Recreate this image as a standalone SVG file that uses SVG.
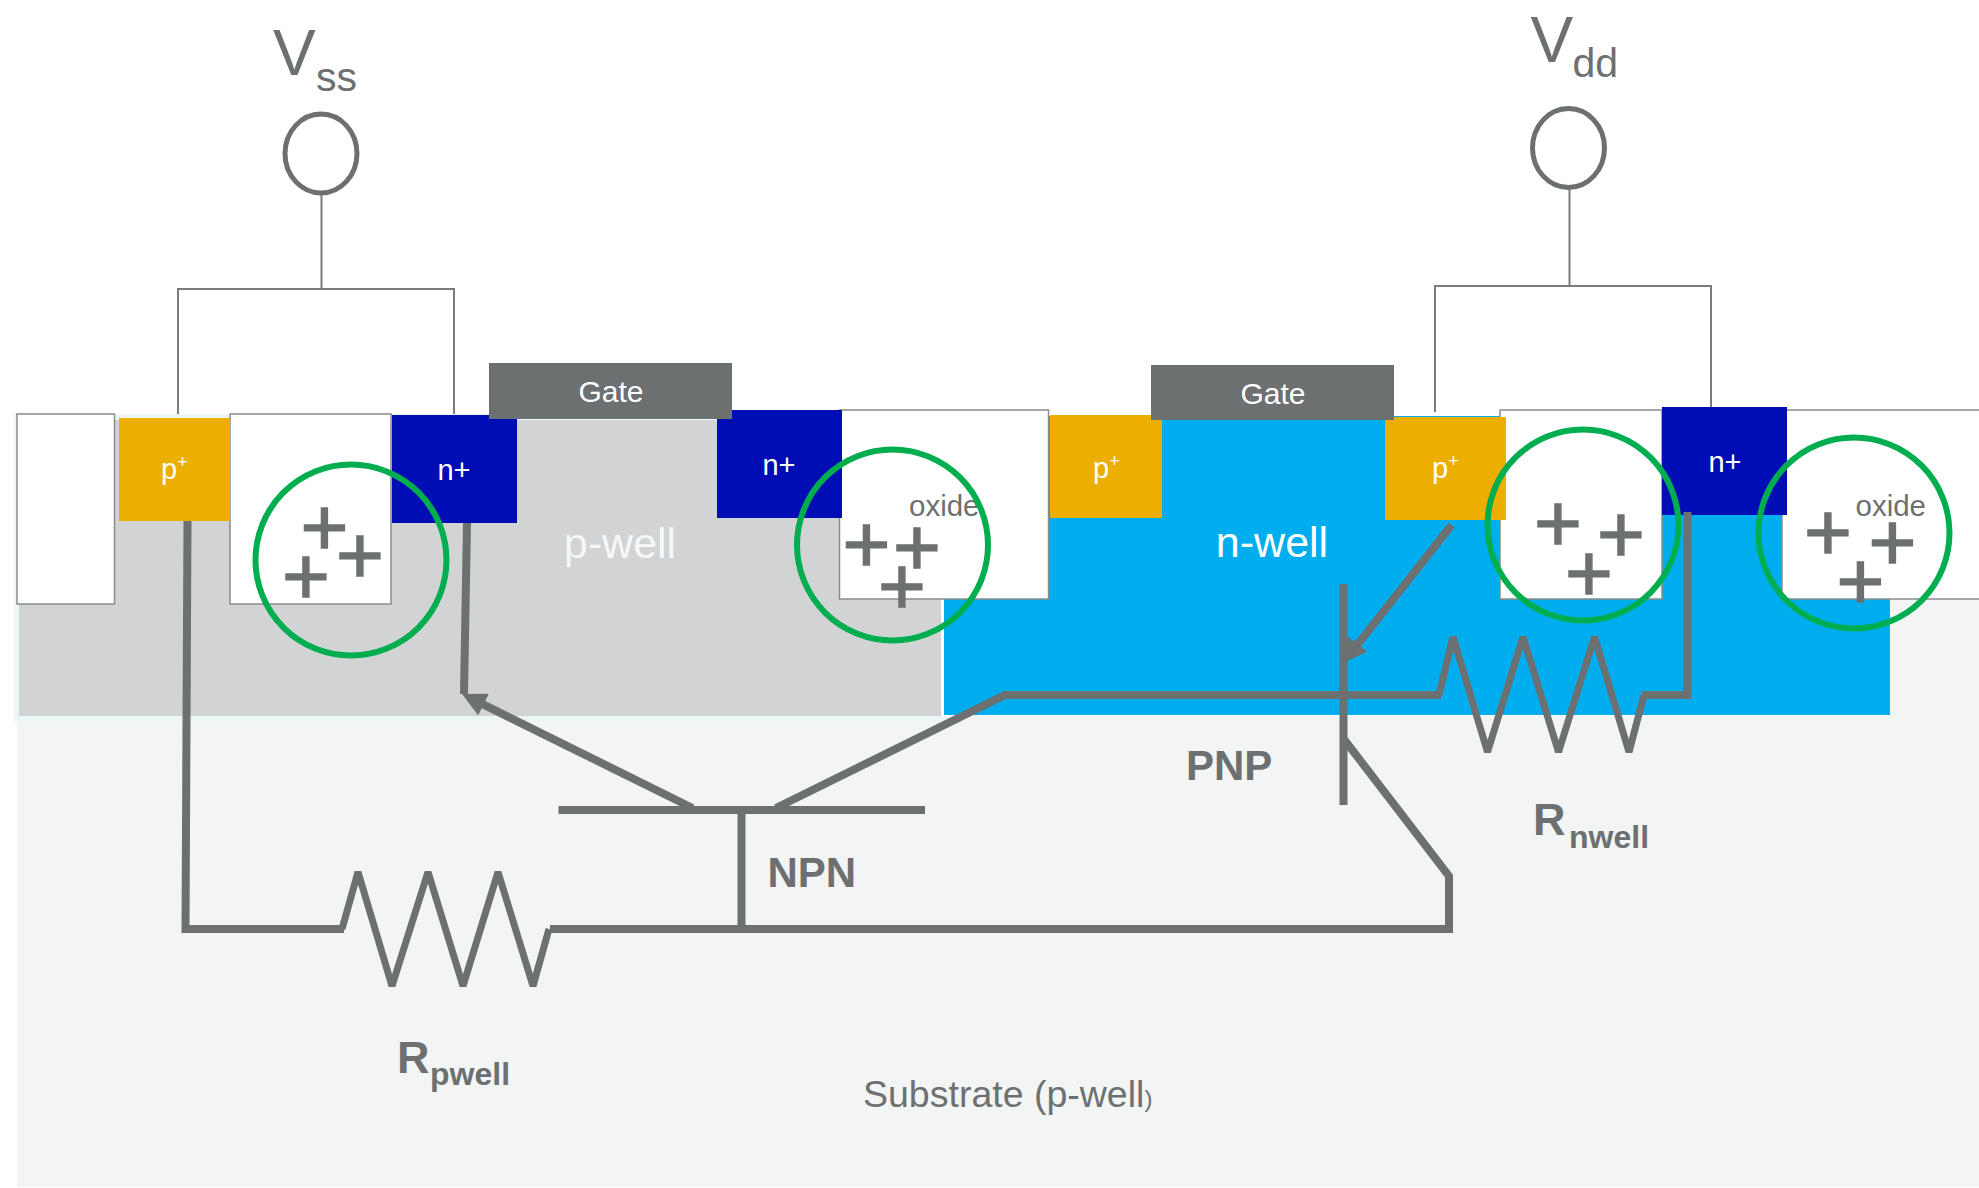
<svg xmlns="http://www.w3.org/2000/svg" width="1979" height="1188" viewBox="0 0 1979 1188">
<style>
text{font-family:"Liberation Sans",Arial,sans-serif;fill:#6d7071}
.w{fill:#fff}
.c{text-anchor:middle}
.lab{font-size:29px}
.gl{font-size:30px}
.oxl{font-size:29.500px}
.well{font-size:43px}
.bold{font-weight:700}
.plus{font-size:82px;text-anchor:middle;stroke:#6d7071;stroke-width:1.500px}
.ox{fill:#fff;stroke:#8a8c8c;stroke-width:1.5}
.pp{fill:#ecae00}
.nn{fill:#000cb4}
.gt{fill:#6d7071}
.thin{fill:none;stroke:#7a7d7d;stroke-width:2}
.ring{fill:none;stroke:#6d7071;stroke-width:5}
.hole{fill:none;stroke:#00ae4f;stroke-width:6}
.wire{fill:none;stroke:#6d7071;stroke-width:8;stroke-linejoin:miter}
.res{fill:none;stroke:#6d7071;stroke-width:7;stroke-linejoin:bevel}
</style>
<defs>
<marker id="head" markerUnits="userSpaceOnUse" viewBox="0 -12 24 24" refX="14" refY="0" markerWidth="24" markerHeight="24" orient="auto"><path d="M0,-12L24,0L0,12Z" fill="#6d7071"/></marker>
</defs>
<rect width="1979" height="1188" fill="#fff"/>
<g id="regions">
<rect x="17" y="716" width="1962" height="471" fill="#f2f5f4"/>
<rect x="1890" y="599" width="89" height="120" fill="#f2f5f4"/>
<rect x="14" y="414" width="927" height="307" fill="#ecf6f7"/>
<rect id="p-well" x="19" y="420" width="922" height="296" fill="#d1d3d4"/>
<rect id="n-well" x="944" y="416" width="946" height="299" fill="#00aeef"/>
</g>
<g id="oxide-boxes">
<rect class="ox" x="17" y="414" width="97.500" height="190"/>
<rect class="ox" x="230" y="414" width="161" height="190"/>
<rect class="ox" x="839.500" y="410" width="209" height="189"/>
<rect class="ox" x="1500" y="410" width="162" height="189"/>
<rect class="ox" x="1782" y="410" width="200" height="189"/>
</g>
<g id="p-plus-1"><rect class="pp" x="119" y="418" width="111" height="103"/><text class="lab w" x="161" y="479">p<tspan font-size="18" dy="-11">+</tspan></text></g>
<g id="n-plus-1"><rect class="nn" x="392" y="415" width="125" height="108"/><text class="lab w c" x="454" y="480">n+</text></g>
<g id="n-plus-2"><rect class="nn" x="717" y="410" width="125" height="108"/><text class="lab w c" x="779" y="475">n+</text></g>
<g id="p-plus-2"><rect class="pp" x="1050" y="415" width="112" height="103"/><text class="lab w" x="1093" y="478">p<tspan font-size="18" dy="-11">+</tspan></text></g>
<g id="p-plus-3"><rect class="pp" x="1385" y="417" width="121" height="103"/><text class="lab w" x="1432" y="478">p<tspan font-size="18" dy="-11">+</tspan></text></g>
<g id="n-plus-3"><rect class="nn" x="1662" y="407" width="125" height="108"/><text class="lab w c" x="1725" y="472">n+</text></g>
<g id="gate-1"><rect class="gt" x="489" y="363" width="243" height="56"/><text class="gl w c" x="611" y="402">Gate</text></g>
<g id="gate-2"><rect class="gt" x="1151" y="365" width="243" height="55"/><text class="gl w c" x="1273" y="404">Gate</text></g>
<g id="well-labels">
<text class="well c" x="620" y="558" style="fill:#f6f7f7">p-well</text>
<text class="well w c" x="1272" y="557">n-well</text>
<text x="863" y="1107" font-size="37.500">Substrate (p-well<tspan font-size="24">)</tspan></text>
</g>
<g id="oxide-labels">
<text class="oxl" x="909" y="516">oxide</text>
<text class="oxl" x="1855.500" y="516">oxide</text>
</g>
<g id="charges">
<text class="plus" x="324.500" y="555">+</text><text class="plus" x="360" y="583">+</text><text class="plus" x="306" y="604">+</text>
<text class="plus" x="866.500" y="572">+</text><text class="plus" x="917" y="575">+</text><text class="plus" x="902" y="614">+</text>
<text class="plus" x="1558" y="551">+</text><text class="plus" x="1621" y="562">+</text><text class="plus" x="1589" y="601">+</text>
<text class="plus" x="1828" y="560">+</text><text class="plus" x="1892.500" y="570">+</text><text class="plus" x="1860.500" y="609">+</text>
</g>
<g id="connectors">
<path class="thin" d="M178,414V289H454V414M321.500,195V289"/>
<path class="thin" d="M1435,412V286H1711V407M1569.500,190V286"/>
<path class="wire" d="M187.500,521L185.500,929H344"/>
<path class="res" d="M342,929L358,872L392,986L428,872L463,986L498,872L533,986L549,929"/>
<path class="wire" d="M550,929H1449V876L1343,738"/>
<path class="wire" d="M741.500,810V929"/>
<path class="wire" d="M558.500,810H925"/>
<path class="wire" d="M467,523L464,694"/>
<path class="wire" d="M692.500,808L471,698.400" marker-end="url(#head)"/>
<path class="wire" d="M776,808L1005,695H1441"/>
<path class="res" d="M1439,695L1453,637L1487.500,752L1523,637L1558.500,752L1594.500,637L1629,752L1644,695"/>
<path class="wire" d="M1642,695H1687.500V512"/>
<path class="wire" d="M1343.500,584V805"/>
<path class="wire" d="M1451.600,525L1349.200,655.100" marker-end="url(#head)"/>
</g>
<g id="hole-rings">
<ellipse class="hole" cx="351" cy="560" rx="95.500" ry="95.500"/>
<ellipse class="hole" cx="892.500" cy="545" rx="95.500" ry="95.500"/>
<ellipse class="hole" cx="1583" cy="525" rx="95.500" ry="95.500"/>
<ellipse class="hole" cx="1854" cy="533" rx="95.500" ry="95.500"/>
</g>
<g id="vss"><ellipse class="ring" cx="321" cy="153.500" rx="36" ry="39.500"/><text x="273" y="75" font-size="64">V</text><text x="316" y="91" font-size="41">ss</text></g>
<g id="vdd"><ellipse class="ring" cx="1568.500" cy="148" rx="36" ry="39.500"/><text x="1530.500" y="62" font-size="64">V</text><text x="1572.500" y="77" font-size="41">dd</text></g>
<g id="device-labels">
<text class="bold" x="767.500" y="887" font-size="42">NPN</text>
<text class="bold" x="1186" y="780" font-size="42">PNP</text>
<text class="bold" x="397" y="1073" font-size="45">R</text><text class="bold" x="430" y="1085" font-size="32">pwell</text>
<text class="bold" x="1533" y="835" font-size="45">R</text><text class="bold" x="1569" y="848" font-size="32">nwell</text>
</g>
</svg>
